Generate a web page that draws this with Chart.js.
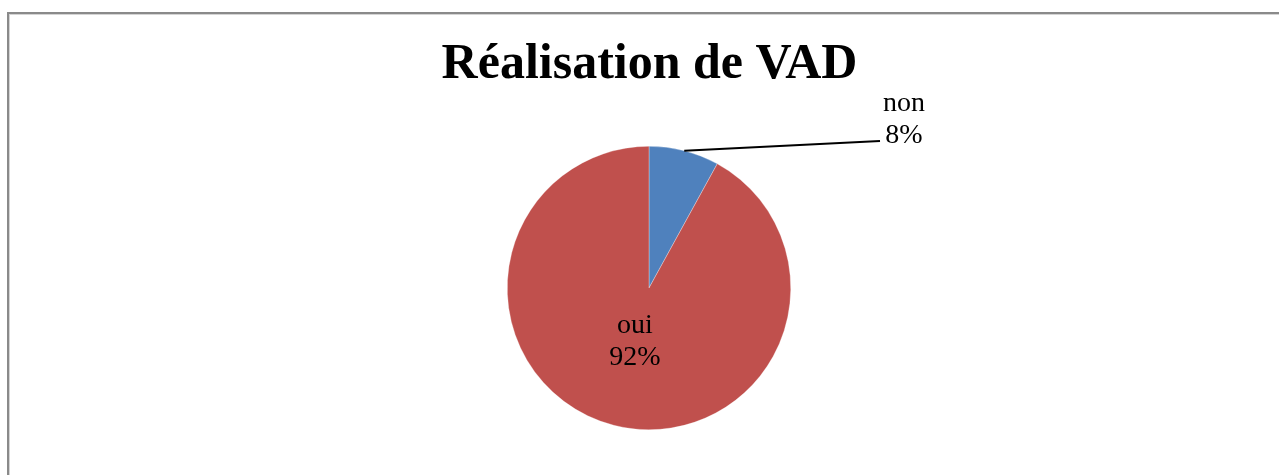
<!DOCTYPE html>
<html lang="fr">
<head>
<meta charset="utf-8">
<title>Réalisation de VAD</title>
<script src="https://cdn.jsdelivr.net/npm/chart.js@4/dist/chart.umd.min.js"></script>
<style>
    html, body {
        margin: 0;
        padding: 0;
        background: #fff;
        overflow: hidden;
    }
    #wrap {
        position: relative;
        width: 1279px;
        height: 475px;
    }
    /* frame of the original chart object (only top and left edges are visible) */
    #frame {
        position: absolute;
        left: 7px;
        top: 12px;
        width: 1290px;
        height: 480px;
        border-left: 2px solid #8a8a8a;
        border-top: 2px solid #8a8a8a;
        box-shadow: inset 1px 1px 0 #d4d4d4;
        pointer-events: none;
    }
    #vadChart {
        position: absolute;
        left: 0;
        top: 0;
    }
</style>
</head>
<body>
<div id="wrap">
    <div id="frame"></div>
    <canvas id="vadChart" width="1279" height="475"></canvas>
</div>

<script>
// Chart data
const titleText = 'Réalisation de VAD';
const sliceLabels = ['non', 'oui'];
const sliceValues = [8, 92];
const sliceColors = ['#4F81BD', '#C0504D'];
// which slices get their label outside the pie (with a leader line)
const outsideLabels = ['non'];

/**
 * Title drawn by hand: the built-in title is squeezed to the
 * (narrow) chart box width because of the big side paddings
 */
const bigTitlePlugin = {
    id: 'bigTitle',
    afterDraw(chart) {
        const ctx = chart.ctx;
        ctx.save();
        ctx.fillStyle = '#000';
        ctx.font = 'bold 50px "Liberation Serif", serif';
        ctx.textAlign = 'center';
        ctx.textBaseline = 'alphabetic';
        ctx.fillText(titleText, 649.5, 78);
        ctx.restore();
    }
};

/**
 * Draw data labels: category name + percentage,
 * inside the big slice and outside with a leader line for the small one
 */
const pieLabelsPlugin = {
    id: 'pieLabels',
    afterDatasetsDraw(chart) {
        const ctx = chart.ctx;
        const meta = chart.getDatasetMeta(0);
        const total = sliceValues.reduce((a, b) => a + b, 0);

        ctx.save();
        ctx.fillStyle = '#000';
        ctx.font = '28px "Liberation Serif", serif';
        ctx.textAlign = 'center';
        ctx.textBaseline = 'alphabetic';

        meta.data.forEach((arc, i) => {
            const p = arc.getProps(['x', 'y', 'startAngle', 'endAngle', 'outerRadius'], true);
            const mid = (p.startAngle + p.endAngle) / 2;
            const pct = Math.round(sliceValues[i] / total * 100) + '%';

            if (outsideLabels.includes(sliceLabels[i])) {
                // leader line from the slice edge to the label
                const sx = p.x + Math.cos(mid) * p.outerRadius;
                const sy = p.y + Math.sin(mid) * p.outerRadius;
                const ex = p.x + 231;
                const ey = p.y - 147;
                ctx.beginPath();
                ctx.strokeStyle = '#000';
                ctx.lineWidth = 2;
                ctx.moveTo(sx, sy);
                ctx.lineTo(ex, ey);
                ctx.stroke();

                ctx.fillText(sliceLabels[i], ex + 24, ey - 30);
                ctx.fillText(pct, ex + 24, ey + 2);
            } else {
                const lx = p.x + Math.cos(mid) * p.outerRadius * 0.4;
                const ly = p.y + Math.sin(mid) * p.outerRadius * 0.4;
                ctx.fillText(sliceLabels[i], lx, ly - 10);
                ctx.fillText(pct, lx, ly + 22);
            }
        });
        ctx.restore();
    }
};

new Chart(document.getElementById('vadChart'), {
    type: 'pie',
    data: {
        labels: sliceLabels,
        datasets: [{
            data: sliceValues,
            backgroundColor: sliceColors,
            borderColor: 'rgba(255, 255, 255, 0.6)',
            borderWidth: 0.5
        }]
    },
    options: {
        responsive: false,
        animation: false,
        layout: {
            padding: { top: 146, bottom: 45, left: 507, right: 488 }
        },
        plugins: {
            legend: { display: false },
            tooltip: { enabled: false },
            title: { display: false }
        }
    },
    plugins: [pieLabelsPlugin, bigTitlePlugin]
});
</script>
</body>
</html>
